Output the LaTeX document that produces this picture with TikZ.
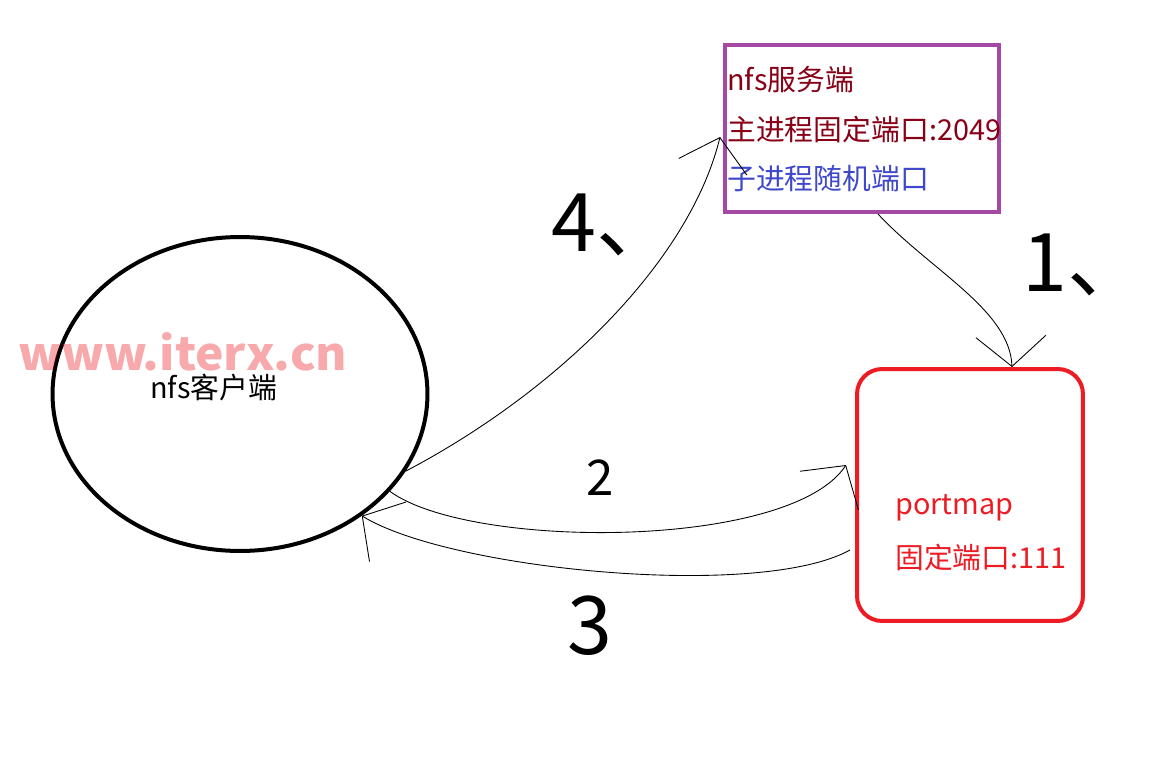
\documentclass[tikz,border=0pt]{standalone}
\usepackage{fontspec}
\newfontfamily\cjk{Noto Sans CJK SC}
\usetikzlibrary{arrows.meta,shapes.geometric}
\definecolor{paintpurple}{RGB}{163,73,164}
\definecolor{darkred}{RGB}{136,0,21}
\definecolor{paintblue}{RGB}{63,72,204}
\definecolor{paintred}{RGB}{237,28,36}
\begin{document}
\begin{tikzpicture}[x=0.02cm, y=-0.02cm,
	txt/.style={font=\cjk\fontsize{16.4pt}{20pt}\selectfont, inner sep=0pt, anchor=west},
	num/.style={font=\cjk\fontsize{46pt}{50pt}\selectfont, inner sep=0pt},
	hand/.style={line width=0.5pt, -{Straight Barb[length=0.6cm, width=1.4cm]}}]
	\useasboundingbox (0,0) rectangle (1164,771);
	% the three parts
	\node[ellipse, draw, line width=0.08cm, minimum width=7.5cm, minimum height=6.28cm, inner sep=0pt] (client) at (240,394) {};
	\node[draw=paintpurple, line width=0.08cm, minimum width=5.48cm, minimum height=3.34cm] (server) at (862,128.5) {};
	\node[draw=paintred, line width=0.08cm, rounded corners=0.5cm, minimum width=4.52cm, minimum height=5.04cm] (portmap) at (970,495) {};
	\node[txt] (clientname) at (150,388) {nfs客户端};
	\node[txt, text=darkred] (srvtitle) at (727,80) {nfs服务端};
	\node[txt, text=darkred] (srvmain) at (727,129) {主进程固定端口:2049};
	\node[txt, text=paintblue] (srvchild) at (727,179) {子进程随机端口};
	\node[txt, text=paintred] (pmname) at (895,508) {portmap};
	\node[txt, text=paintred] (pmport) at (895,557) {固定端口:111};
	\node[font=\cjk\bfseries\fontsize{26pt}{30pt}\selectfont, text=paintred, text opacity=0.38, xscale=1.05] (mark) at (183,352) {www.iterx.cn};
	% steps
	\draw[hand] ([xshift=0.32cm]server.south) .. controls (930,270) and (1010,310) .. ([xshift=0.84cm]portmap.north);
	\draw[hand] (client.-33) .. controls (470,550) and (790,550) .. ([xshift=-0.18cm, yshift=0.6cm]portmap.west);
	\draw[hand] ([xshift=-0.1cm, yshift=-1.1cm]portmap.west) .. controls (760,600) and (450,570) .. (client.-45);
	\draw[hand] (client.-25) .. controls (560,390) and (690,260) .. ([xshift=-0.06cm, yshift=-0.17cm]server.west);
	\node[num] (stepone) at (1085,265) {1、};
	\node[num, font=\cjk\fontsize{28pt}{32pt}\selectfont] (steptwo) at (600,478) {2};
	\node[num] (stepthree) at (590,626) {3};
	\node[num] (stepfour) at (614,225) {4、};
\end{tikzpicture}
\end{document}
